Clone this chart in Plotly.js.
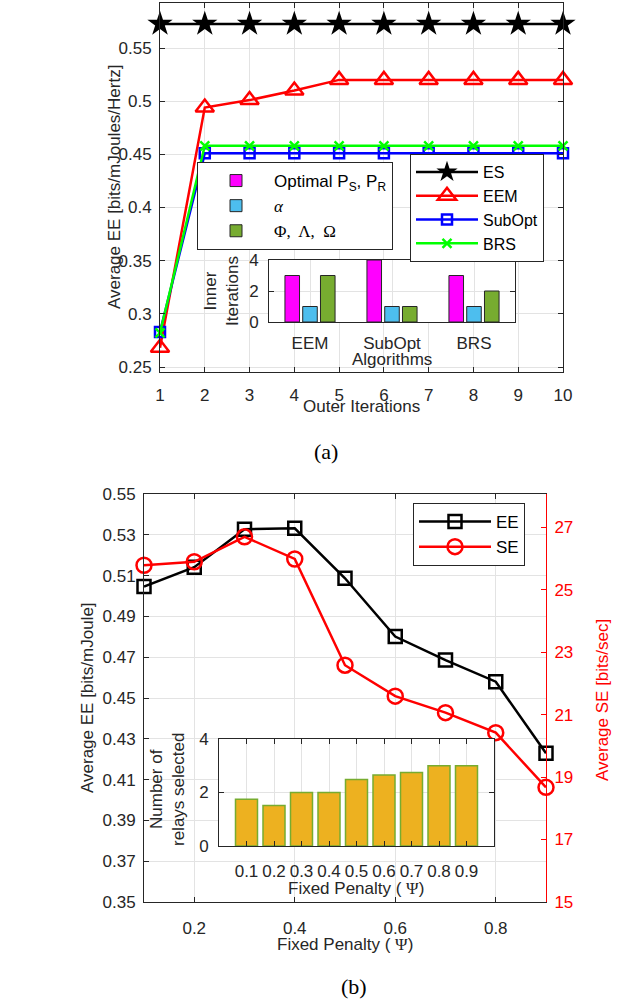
<!DOCTYPE html>
<html>
<head>
<meta charset="utf-8">
<script src="https://cdn.plot.ly/plotly-3.0.1.min.js"></script>
<style>html,body{margin:0;padding:0;background:#fff;}#chart{width:619px;height:1002px;}</style>
</head>
<body>
<div id="chart"></div>
<script>
// ---------- Data: figure (a) ----------
const outerIterations = [1, 2, 3, 4, 5, 6, 7, 8, 9, 10];
const esEE     = [0.5726, 0.5726, 0.5726, 0.5726, 0.5726, 0.5726, 0.5726, 0.5726, 0.5726, 0.5726];
const eemEE    = [0.268, 0.494, 0.501, 0.510, 0.520, 0.520, 0.520, 0.520, 0.520, 0.520];
const subOptEE = [0.283, 0.451, 0.451, 0.451, 0.451, 0.451, 0.451, 0.451, 0.451, 0.451];
const brsEE    = [0.282, 0.458, 0.458, 0.458, 0.458, 0.458, 0.458, 0.458, 0.458, 0.458];
const eeTicksA = [0.25, 0.3, 0.35, 0.4, 0.45, 0.5, 0.55];

// inset (a): inner iterations per algorithm
const algorithms   = ['EEM', 'SubOpt', 'BRS'];
const innerPower   = [3, 4, 3];
const innerAlpha   = [1, 1, 1];
const innerPhi     = [3, 1, 2];

// ---------- Data: figure (b) ----------
const penalty   = [0.1, 0.2, 0.3, 0.4, 0.5, 0.6, 0.7, 0.8, 0.9];
const eeB       = [0.5046, 0.5141, 0.5327, 0.5332, 0.5087, 0.4801, 0.4686, 0.4580, 0.4229];
const seB       = [25.78, 25.89, 26.69, 25.98, 22.58, 21.59, 21.06, 20.42, 18.67];
const relays    = [1.75, 1.51, 2.0, 2.0, 2.49, 2.65, 2.75, 3.0, 3.0];
const penaltyTickText = ['0.1', '0.2', '0.3', '0.4', '0.5', '0.6', '0.7', '0.8', '0.9'];
const eeTicksB  = [0.35, 0.37, 0.39, 0.41, 0.43, 0.45, 0.47, 0.49, 0.51, 0.53, 0.55];
const seTicksB  = [15, 17, 19, 21, 23, 25, 27];
const penaltyMainTicks = [0.2, 0.4, 0.6, 0.8];

// ---------- Helpers ----------
const W = 619, H = 1002;
const px = v => v / W;
const py = v => 1 - v / H;
const AX = '#262626';
const GRID = '#e3e3e3';
const SANS = 'Liberation Sans, Arial, sans-serif';
const SERIF = 'Liberation Serif, Times New Roman, serif';
const FS = 17;
const tf = {family: SANS, size: FS, color: AX};

function baseAxis(extra) {
  return Object.assign({
    showline: true, linecolor: AX, linewidth: 1,
    ticks: 'inside', ticklen: 5, tickcolor: AX, tickwidth: 1,
    mirror: 'ticks', showgrid: true, gridcolor: GRID, gridwidth: 1,
    zeroline: false, tickfont: tf, fixedrange: true
  }, extra);
}

const traces = [
  // (a) main lines
  {x: outerIterations, y: esEE, name: 'ES', type: 'scatter', mode: 'lines+markers',
   xaxis: 'x', yaxis: 'y', legend: 'legend', cliponaxis: false,
   line: {color: '#000000', width: 2.5}, marker: {symbol: 'star', size: 19, color: '#000000'}},
  {x: outerIterations, y: eemEE, name: 'EEM', type: 'scatter', mode: 'lines+markers',
   xaxis: 'x', yaxis: 'y', legend: 'legend', cliponaxis: false,
   line: {color: '#ff0000', width: 2.5},
   marker: {symbol: 'triangle-up-open', size: 16, color: '#ff0000', line: {width: 2.5, color: '#ff0000'}}},
  {x: outerIterations, y: subOptEE, name: 'SubOpt', type: 'scatter', mode: 'lines+markers',
   xaxis: 'x', yaxis: 'y', legend: 'legend', cliponaxis: false,
   line: {color: '#0000ff', width: 2.5},
   marker: {symbol: 'square-open', size: 10, color: '#0000ff', line: {width: 2.5, color: '#0000ff'}}},
  {x: outerIterations, y: brsEE, name: 'BRS', type: 'scatter', mode: 'lines+markers',
   xaxis: 'x', yaxis: 'y', legend: 'legend', cliponaxis: false,
   line: {color: '#00ff00', width: 2.5},
   marker: {symbol: 'x-thin-open', size: 9, color: '#00ff00', line: {width: 2.5, color: '#00ff00'}}},

  // (a) inset bars
  {x: algorithms, y: innerPower, type: 'bar', name: 'Optimal P<sub>S</sub>, P<sub>R</sub>',
   xaxis: 'x3', yaxis: 'y4', legend: 'legend2',
   marker: {color: '#ff00ff', line: {color: AX, width: 1}}},
  {x: algorithms, y: innerAlpha, type: 'bar',
   name: '<span style="font-family:Liberation Serif;font-style:italic">α</span>',
   xaxis: 'x3', yaxis: 'y4', legend: 'legend2',
   marker: {color: '#4dbeee', line: {color: AX, width: 1}}},
  {x: algorithms, y: innerPhi, type: 'bar',
   name: '<span style="font-family:Liberation Serif">Φ,  Λ,  Ω</span>',
   xaxis: 'x3', yaxis: 'y4', legend: 'legend2',
   marker: {color: '#77ac30', line: {color: AX, width: 1}}},

  // (b) main lines
  {x: penalty, y: eeB, name: 'EE', type: 'scatter', mode: 'lines+markers',
   xaxis: 'x2', yaxis: 'y2', legend: 'legend3', cliponaxis: false,
   line: {color: '#000000', width: 2.5},
   marker: {symbol: 'square-open', size: 13, color: '#000000', line: {width: 2.5, color: '#000000'}}},
  {x: penalty, y: seB, name: 'SE', type: 'scatter', mode: 'lines+markers',
   xaxis: 'x2', yaxis: 'y3', legend: 'legend3', cliponaxis: false,
   line: {color: '#ff0000', width: 2.5},
   marker: {symbol: 'circle-open', size: 15, color: '#ff0000', line: {width: 2.5, color: '#ff0000'}}},

  // (b) inset bars
  {x: penalty, y: relays, type: 'bar', name: 'relays', showlegend: false, width: 0.08,
   xaxis: 'x4', yaxis: 'y5',
   marker: {color: '#edb120', line: {color: '#77ac30', width: 1.5}}}
];

const layout = {
  width: W, height: H,
  margin: {l: 0, r: 0, t: 0, b: 0},
  paper_bgcolor: '#ffffff', plot_bgcolor: '#ffffff',
  font: {family: SANS, size: FS, color: AX},
  showlegend: true,
  barmode: 'group', bargap: 0.35, bargroupgap: 0.18,

  // (a) main
  xaxis: baseAxis({domain: [px(160), px(563)], anchor: 'y', range: [1, 10],
    tickvals: outerIterations, ticklabelstandoff: 8}),
  yaxis: baseAxis({domain: [py(372), py(2.7)], anchor: 'x', range: [0.2453, 0.5926],
    tickvals: eeTicksA, ticklabelstandoff: 4}),

  // (b) main
  xaxis2: baseAxis({domain: [px(144), px(546)], anchor: 'y2', range: [0.1, 0.9],
    tickvals: penaltyMainTicks, ticklabelstandoff: 11}),
  yaxis2: baseAxis({domain: [py(902), py(494)], anchor: 'x2', range: [0.35, 0.55],
    tickvals: eeTicksB, mirror: false, ticklabelstandoff: 4}),
  yaxis3: {overlaying: 'y2', side: 'right', anchor: 'x2', range: [15, 28.06],
    tickvals: seTicksB, showline: true, linecolor: '#ff0000', linewidth: 1,
    ticks: 'inside', ticklen: 5, tickcolor: '#ff0000', showgrid: false, zeroline: false,
    tickfont: {family: SANS, size: FS, color: '#ff0000'}, ticklabelstandoff: 4, fixedrange: true},

  // (a) inset
  xaxis3: baseAxis({domain: [px(269), px(515)], anchor: 'y4', type: 'category',
    range: [-0.5, 2.5], ticks: '', ticklabelstandoff: 6}),
  yaxis4: baseAxis({domain: [py(322), py(260)], anchor: 'x3', range: [0, 4],
    tickvals: [0, 2, 4], ticklabelstandoff: 6}),

  // (b) inset
  xaxis4: baseAxis({domain: [px(219), px(494)], anchor: 'y5', range: [0, 1],
    tickvals: penalty, ticktext: penaltyTickText, ticklabelstandoff: 10}),
  yaxis5: baseAxis({domain: [py(846), py(739)], anchor: 'x4', range: [0, 4],
    tickvals: [0, 2, 4], ticklabelstandoff: 6}),

  legend: {x: px(410), y: py(154), xanchor: 'left', yanchor: 'top',
    bgcolor: '#ffffff', bordercolor: AX, borderwidth: 1,
    font: {family: SANS, size: 16, color: '#000000'}, itemwidth: 62, tracegroupgap: 0},
  legend2: {x: px(197), y: py(162), xanchor: 'left', yanchor: 'top',
    bgcolor: '#ffffff', bordercolor: AX, borderwidth: 1, traceorder: 'normal',
    font: {family: SANS, size: FS, color: '#000000'}, itemwidth: 66},
  legend3: {x: px(413), y: py(503), xanchor: 'left', yanchor: 'top',
    bgcolor: '#ffffff', bordercolor: AX, borderwidth: 1,
    font: {family: SANS, size: FS, color: '#000000'}, itemwidth: 72},

  annotations: [
    {text: 'Average EE [bits/mJoules/Hertz]', x: px(115), y: py(187), textangle: -90},
    {text: 'Outer Iterations', x: px(361), y: py(406)},
    {text: 'Algorithms', x: px(392), y: py(359)},
    {text: 'Inner<br>Iterations', x: px(221), y: py(291), textangle: -90},
    {text: '(a)', x: px(326), y: py(452), font: {family: SERIF, size: 22, color: '#000000'}},

    {text: 'Average EE [bits/mJoule]', x: px(87), y: py(698), textangle: -90},
    {text: 'Average SE [bits/sec]', x: px(602), y: py(700), textangle: -90,
     font: {family: SANS, size: FS, color: '#ff0000'}},
    {text: 'Fixed Penalty ( <span style="font-family:Liberation Serif">Ψ</span>)', x: px(345), y: py(944)},
    {text: 'Fixed Penalty ( <span style="font-family:Liberation Serif">Ψ</span>)', x: px(356), y: py(888)},
    {text: 'Number of<br>relays selected', x: px(167), y: py(790), textangle: -90},
    {text: '(b)', x: px(354), y: py(986), font: {family: SERIF, size: 22, color: '#000000'}}
  ].map(a => Object.assign({xref: 'paper', yref: 'paper', showarrow: false,
      xanchor: 'center', yanchor: 'middle', font: {family: SANS, size: FS, color: AX}}, a))
};

Plotly.newPlot('chart', traces, layout, {staticPlot: true, displayModeBar: false});
</script>
</body>
</html>
